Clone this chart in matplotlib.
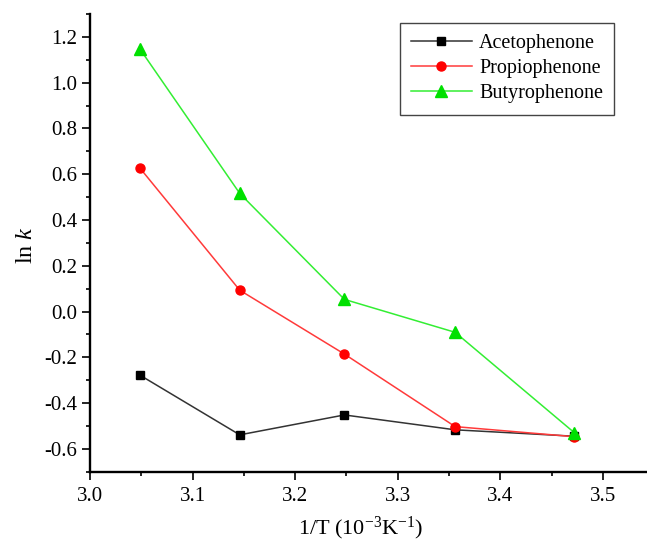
import matplotlib
matplotlib.use("Agg")
import matplotlib.pyplot as plt
from matplotlib.ticker import MultipleLocator, FormatStrFormatter

# data
inv_temp = [3.049, 3.146, 3.248, 3.356, 3.472]
acetophenone = [-0.279, -0.539, -0.452, -0.517, -0.545]
propiophenone = [0.625, 0.093, -0.186, -0.503, -0.547]
butyrophenone = [1.145, 0.516, 0.053, -0.091, -0.529]

series_names = ["Acetophenone", "Propiophenone", "Butyrophenone"]

plt.rcParams["font.family"] = ["Liberation Serif", "DejaVu Serif"]
plt.rcParams["mathtext.fontset"] = "custom"
plt.rcParams["mathtext.rm"] = "Liberation Serif"
plt.rcParams["mathtext.it"] = "Liberation Serif:italic"

fig = plt.figure(figsize=(6.47, 5.45), dpi=100)
ax = fig.add_axes([0.1391, 0.1345, 0.8609, 0.8398])

styles = [
    dict(color="#333333", mfc="black", mec="black", marker="s", ms=6),
    dict(color="#ff3a3a", mfc="red", mec="red", marker="o", ms=6.5),
    dict(color="#33ee33", mfc="#00e000", mec="#00e000", marker="^", ms=8),
]
for values, name, st in zip([acetophenone, propiophenone, butyrophenone], series_names, styles):
    ax.plot(inv_temp, values, label=name, lw=1.1, **st)

ax.set_xlim(3.0, 3.543)
ax.set_ylim(-0.7, 1.3)
ax.xaxis.set_major_locator(MultipleLocator(0.1))
ax.xaxis.set_minor_locator(MultipleLocator(0.05))
ax.yaxis.set_major_locator(MultipleLocator(0.2))
ax.yaxis.set_minor_locator(MultipleLocator(0.1))
ax.xaxis.set_major_formatter(FormatStrFormatter("%.1f"))
ax.yaxis.set_major_formatter(FormatStrFormatter("%.1f"))

for side in ("top", "right"):
    ax.spines[side].set_visible(False)
for side in ("left", "bottom"):
    ax.spines[side].set_linewidth(1.7)

ax.tick_params(which="major", direction="out", length=5.8, width=1.2, labelsize=15)
ax.tick_params(which="minor", direction="out", length=3, width=1.2)
ax.tick_params(axis="y", which="major", pad=3.5)
ax.tick_params(axis="x", which="major", pad=5)

ax.set_ylabel(r"ln $\mathit{k}$", fontsize=17.5, va="baseline")
ax.yaxis.set_label_coords(-0.104, 0.4953)
ax.set_xlabel(r"1/T (10$^{\mathregular{-3}}$K$^{\mathregular{-1}}$)", fontsize=16, va="baseline")
ax.xaxis.set_label_coords(0.4865, -0.136)

leg = ax.legend(
    loc="upper left",
    bbox_to_anchor=(0.5566, 0.9803),
    borderaxespad=0,
    fontsize=14.5,
    handlelength=3.0,
    handletextpad=0.37,
    labelspacing=0.3,
    borderpad=0.55,
    fancybox=False,
    framealpha=1,
    edgecolor="#444444",
)
leg.get_frame().set_linewidth(1.0)

fig.savefig("out.png", dpi=100)
